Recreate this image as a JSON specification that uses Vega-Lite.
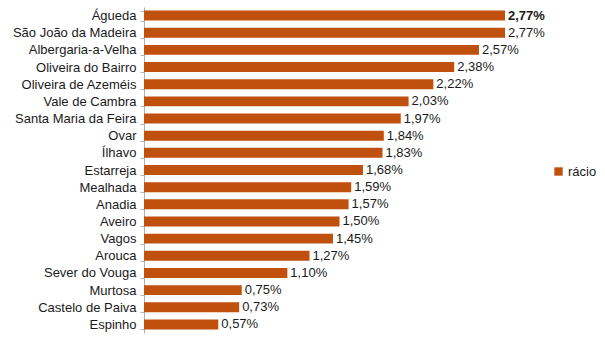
{
  "$schema": "https://vega.github.io/schema/vega-lite/v6.json",
  "width": 391,
  "height": 326,
  "autosize": {"type": "none"},
  "padding": {"left": 144, "top": 7, "right": 70, "bottom": 7},
  "background": "white",
  "config": {
    "view": {"stroke": null},
    "font": "Liberation Sans",
    "locale": {"number": {"decimal": ",", "thousands": ".", "grouping": [3], "currency": ["", " €"]}}
  },
  "data": {"values": [
    {"municipio": "Águeda", "racio": 0.0277},
    {"municipio": "São João da Madeira", "racio": 0.0277},
    {"municipio": "Albergaria-a-Velha", "racio": 0.0257},
    {"municipio": "Oliveira do Bairro", "racio": 0.0238},
    {"municipio": "Oliveira de Azeméis", "racio": 0.0222},
    {"municipio": "Vale de Cambra", "racio": 0.0203},
    {"municipio": "Santa Maria da Feira", "racio": 0.0197},
    {"municipio": "Ovar", "racio": 0.0184},
    {"municipio": "Ílhavo", "racio": 0.0183},
    {"municipio": "Estarreja", "racio": 0.0168},
    {"municipio": "Mealhada", "racio": 0.0159},
    {"municipio": "Anadia", "racio": 0.0157},
    {"municipio": "Aveiro", "racio": 0.0150},
    {"municipio": "Vagos", "racio": 0.0145},
    {"municipio": "Arouca", "racio": 0.0127},
    {"municipio": "Sever do Vouga", "racio": 0.0110},
    {"municipio": "Murtosa", "racio": 0.0075},
    {"municipio": "Castelo de Paiva", "racio": 0.0073},
    {"municipio": "Espinho", "racio": 0.0057}
  ]},
  "encoding": {
    "y": {
      "field": "municipio", "type": "nominal", "sort": null,
      "scale": {"paddingInner": 0.42, "paddingOuter": 0.21},
      "axis": {
        "title": null, "tickBand": "extent", "tickSize": 4, "labelPadding": 4,
        "tickColor": "#b3b3b3", "domainColor": "#b3b3b3",
        "labelFontSize": 13, "labelColor": "#1a1a1a", "labelFont": "Liberation Sans"
      }
    },
    "x": {
      "field": "racio", "type": "quantitative",
      "scale": {"domain": [0, 0.03]},
      "axis": null
    }
  },
  "layer": [
    {
      "mark": {"type": "bar"},
      "encoding": {
        "color": {
          "datum": "rácio",
          "scale": {"range": ["#C0500E"]},
          "legend": {
            "title": null, "orient": "none", "legendX": 408, "legendY": 158,
            "symbolType": "square", "symbolSize": 70, "symbolStrokeWidth": 0,
            "labelFontSize": 13, "labelColor": "#1a1a1a", "labelFont": "Liberation Sans", "labelOffset": 3
          }
        }
      }
    },
    {
      "transform": [{"filter": "datum.municipio !== 'Águeda'"}],
      "mark": {"type": "text", "align": "left", "dx": 3, "fontSize": 13, "color": "#1a1a1a", "font": "Liberation Sans"},
      "encoding": {
        "text": {"field": "racio", "type": "quantitative", "format": ".2%"}
      }
    },
    {
      "transform": [{"filter": "datum.municipio === 'Águeda'"}],
      "mark": {"type": "text", "align": "left", "dx": 3, "fontSize": 13, "fontWeight": "bold", "color": "#1a1a1a", "font": "Liberation Sans"},
      "encoding": {
        "text": {"field": "racio", "type": "quantitative", "format": ".2%"}
      }
    }
  ]
}
